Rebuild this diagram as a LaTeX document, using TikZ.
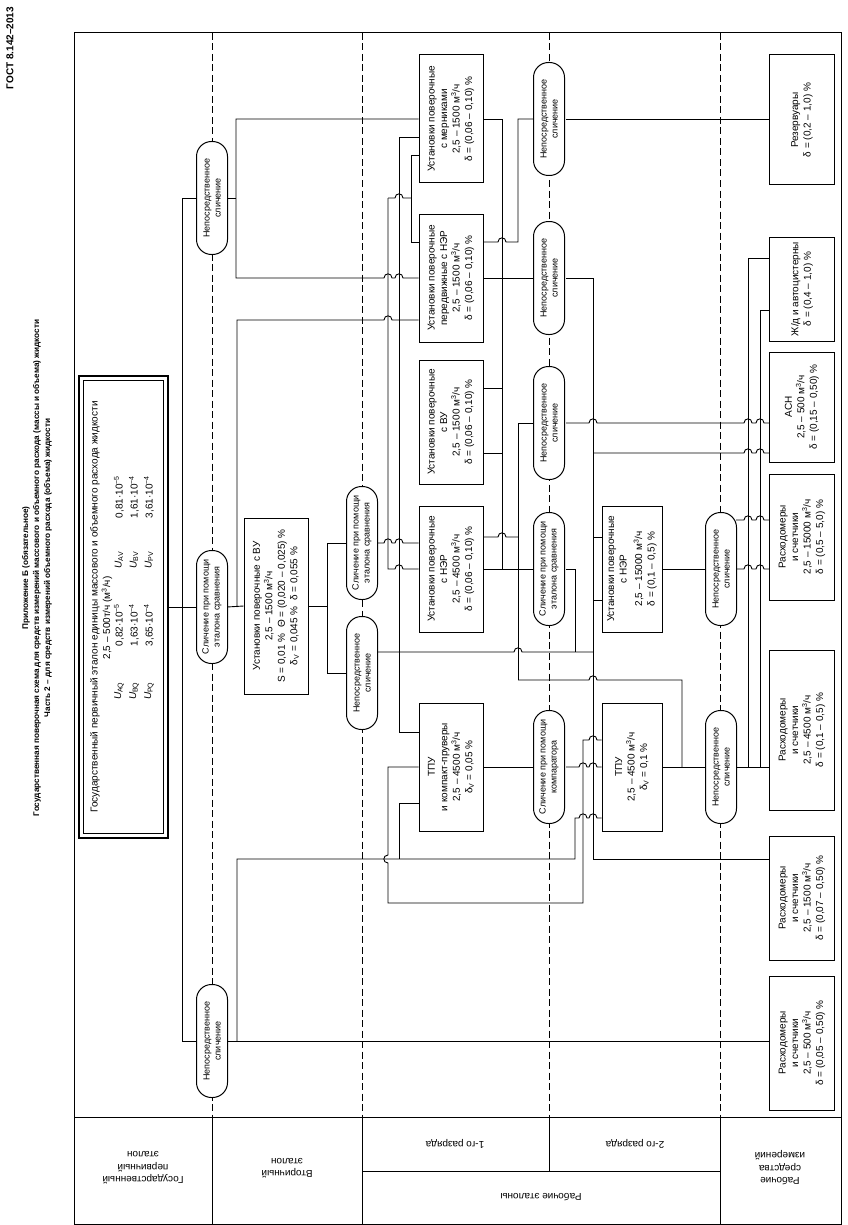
\documentclass[tikz,border=0pt]{standalone}
\usepackage{fontspec}
\setmainfont{Liberation Sans}
\begin{document}
\begin{tikzpicture}[x=1pt,y=-1pt,
  ln/.style={line width=0.9pt},
  frm/.style={line width=1pt},
  sep/.style={line width=0.8pt, dash pattern=on 7pt off 3.5pt},
  box/.style={draw, line width=1pt, fill=white, inner sep=0pt},
  pill/.style={draw, line width=1pt, fill=white, inner sep=0pt, minimum width=31pt, minimum height=113pt, rounded corners=15pt},
  txt/.style={rotate=90, align=center, inner sep=0pt, font=\fontsize{10}{12.5}\selectfont},
  ptxt/.style={rotate=90, align=center, inner sep=0pt, font=\fontsize{9}{11}\selectfont},
  hdr/.style={rotate=180, align=center, inner sep=0pt, font=\fontsize{10}{12.5}\selectfont},
  ttl/.style={rotate=90, inner sep=0pt, font=\bfseries\fontsize{8.2}{10}\selectfont},
  jh/.style args={#1/#2}{insert path={-- (#1-4,#2) .. controls (#1-4,#2-5.5) and (#1+4,#2-5.5) .. (#1+4,#2)}},
  jv/.style args={#1/#2}{insert path={-- (#1,#2-4) .. controls (#1-5.5,#2-4) and (#1-5.5,#2+4) .. (#1,#2+4)}},
]
\useasboundingbox (0,0) rectangle (847,1225);

% titles
\node[ttl, font=\bfseries\fontsize{10}{12}\selectfont] (gost) at (10,48) {ГОСТ 8.142–2013};
\node[ttl] (t1) at (26,568) {Приложение Б (обязательное)};
\node[ttl] (t2) at (37,568) {Государственная поверочная схема для средств измерений массового и объемного расхода (массы и объема) жидкости};
\node[ttl] (t3) at (48,568) {Часть 2 – для средств измерений объемного расхода (объема) жидкости};

% frame and header
\draw[frm] (74,33) rectangle (841,1224);
\draw[frm] (74,1117) -- (841,1117);
\draw[frm] (212,1117) -- (212,1224);
\draw[frm] (362,1117) -- (362,1224);
\draw[frm] (720,1117) -- (720,1224);
\draw[frm] (549,1117) -- (549,1171);
\draw[frm] (362,1171) -- (720,1171);
\node[hdr] (h1) at (143,1168) {Государственный\\первичный\\эталон};
\node[hdr] (h2) at (287,1168) {Вторичный\\эталон};
\node[hdr] (h3) at (455,1144) {1-го разряда};
\node[hdr] (h4) at (635,1144) {2-го разряда};
\node[hdr] (h5) at (541,1197) {Рабочие эталоны};
\node[hdr] (h6) at (780,1168) {Рабочие\\средства\\измерений};

% dashed separators
\draw[sep] (212,33) -- (212,1117);
\draw[sep] (362,33) -- (362,1117);
\draw[sep] (549,33) -- (549,1117);
\draw[sep] (720,33) -- (720,1117);

% boxes
\node[box, line width=2pt, minimum width=89pt, minimum height=462pt] (PRIM) at (123.5,607) {};
\node[draw, line width=0.6pt, minimum width=80pt, minimum height=453pt, inner sep=0pt] (PRIMi) at (PRIM) {};
\node[txt] (PRIMt) at (95,607) {Государственный первичный эталон единицы массового и объемного расхода жидкости};
\node[txt] (PRIMr) at (107,618) {2,5 – 500т/ч (м\textsuperscript{3}/ч)};
\node[txt] (u1) at (119,691) {\textit{U}\textsubscript{AQ}};
\node[txt] (u2) at (119,625) {0,82·10\textsuperscript{−5}};
\node[txt] (u3) at (119,560) {\textit{U}\textsubscript{AV}};
\node[txt] (u4) at (119,497) {0,81·10\textsuperscript{−5}};
\node[txt] (u5) at (134,691) {\textit{U}\textsubscript{BQ}};
\node[txt] (u6) at (134,625) {1,63·10\textsuperscript{−4}};
\node[txt] (u7) at (134,560) {\textit{U}\textsubscript{BV}};
\node[txt] (u8) at (134,497) {1,61·10\textsuperscript{−4}};
\node[txt] (u9) at (149,691) {\textit{U}\textsubscript{PQ}};
\node[txt] (u10) at (149,625) {3,65·10\textsuperscript{−4}};
\node[txt] (u11) at (149,560) {\textit{U}\textsubscript{PV}};
\node[txt] (u12) at (149,497) {3,61·10\textsuperscript{−4}};

\node[box, minimum width=64pt, minimum height=176pt] (SEC) at (276,606) {};
\node[txt] (SECt) at (SEC) {Установки поверочные с ВУ\\2,5 – 1500 м\textsuperscript{3}/ч\\S = 0,01 \%\ \ Θ = (0,020 – 0,025) \%\\δ\textsubscript{V} = 0,045 \%\ \ δ = 0,055 \%};

\node[box, minimum width=64pt, minimum height=128pt] (B1) at (451,119) {};
\node[txt] (B1t) at (B1) {Установки поверочные\\с мерниками\\2,5 – 1500 м\textsuperscript{3}/ч\\δ = (0,06 – 0,10) \%};
\node[box, minimum width=64pt, minimum height=128pt] (B2) at (451,278) {};
\node[txt] (B2t) at (B2) {Установки поверочные\\передвижные с НЭР\\2,5 – 1500 м\textsuperscript{3}/ч\\δ = (0,06 – 0,10) \%};
\node[box, minimum width=64pt, minimum height=124pt] (B3) at (451,422) {};
\node[txt] (B3t) at (B3) {Установки поверочные\\с ВУ\\2,5 – 1500 м\textsuperscript{3}/ч\\δ = (0,06 – 0,10) \%};
\node[box, minimum width=64pt, minimum height=126pt] (B4) at (451,569) {};
\node[txt] (B4t) at (B4) {Установки поверочные\\с НЭР\\2,5 – 4500 м\textsuperscript{3}/ч\\δ = (0,06 – 0,10) \%};
\node[box, minimum width=64pt, minimum height=128pt] (B5) at (451,767) {};
\node[txt] (B5t) at (B5) {ТПУ\\и компакт-пруверы\\2,5 – 4500 м\textsuperscript{3}/ч\\δ\textsubscript{V} = 0,05 \%};

\node[box, minimum width=60pt, minimum height=126pt] (C1) at (632,569) {};
\node[txt] (C1t) at (C1) {Установки поверочные\\с НЭР\\[3pt]2,5 – 15000 м\textsuperscript{3}/ч\\δ = (0,1 – 0,5) \%};
\node[box, minimum width=60pt, minimum height=128pt] (C2) at (632,767) {};
\node[txt] (C2t) at (C2) {ТПУ\\2,5 – 4500 м\textsuperscript{3}/ч\\δ\textsubscript{V} = 0,1 \%};

\node[box, minimum width=65pt, minimum height=130pt] (W1) at (802,120) {};
\node[txt] (W1t) at (W1) {Резервуары\\δ = (0,2 – 1,0) \%};
\node[box, minimum width=65pt, minimum height=104pt] (W2) at (802,289) {};
\node[txt] (W2t) at (W2) {Ж/д и автоцистерны\\δ = (0,4 – 1,0) \%};
\node[box, minimum width=65pt, minimum height=110pt] (W3) at (802,407) {};
\node[txt] (W3t) at (W3) {АСН\\2,5 – 500 м\textsuperscript{3}/ч\\δ = (0,15 – 0,50) \%};
\node[box, minimum width=65pt, minimum height=126pt] (W4) at (802,537) {};
\node[txt] (W4t) at (W4) {Расходомеры\\и счетчики\\2,5 – 15000 м\textsuperscript{3}/ч\\δ = (0,5 – 5,0) \%};
\node[box, minimum width=65pt, minimum height=160pt] (W5) at (802,730) {};
\node[txt] (W5t) at (W5) {Расходомеры\\и счетчики\\2,5 – 4500 м\textsuperscript{3}/ч\\δ = (0,1 – 0,5) \%};
\node[box, minimum width=65pt, minimum height=124pt] (W6) at (802,898) {};
\node[txt] (W6t) at (W6) {Расходомеры\\и счетчики\\2,5 – 1500 м\textsuperscript{3}/ч\\δ = (0,07 – 0,50) \%};
\node[box, minimum width=65pt, minimum height=134pt] (W7) at (802,1043) {};
\node[txt] (W7t) at (W7) {Расходомеры\\и счетчики\\2,5 – 500 м\textsuperscript{3}/ч\\δ = (0,05 – 0,50) \%};

% connectors (drawn before pills so pills sit on top)
\draw[ln] (PRIM.east) -- (197,607);
\draw[ln] (197,198) -- (182,198) -- (182,1041) -- (197,1041);
\draw[ln] (227,198) -- (236,198);
\draw[ln] (B1.west) -- (236,119) -- (236,278) [jh=388/278] [jh=399/278] -- (B2.west);
\draw[ln] (227,607) -- (SEC.west);
\draw[ln] (237,607) -- (237,320) [jh=388/320] -- (B2.west |- 0,320);
\draw[ln] (SEC.east) -- (327,606);
\draw[ln] (347,543) -- (327,543) -- (327,673) -- (347,673);
\draw[ln] (377,543) [jh=388/543] [jh=399/543] -- (B4.west |- 0,543);
\draw[ln] (B1.west |- 0,155) -- (411,155) -- (411,242) -- (B2.west |- 0,242);
\draw[ln] (388,198) [jh=399/198] -- (411,198);
\draw[ln] (388,198) -- (388,569) [jh=399/569] -- (B4.west);
\draw[ln] (B1.west |- 0,137) -- (399,137) -- (399,732) -- (B5.west |- 0,732);
\draw[ln] (377,652) [jh=518/652] -- (593,652);
\draw[ln] (B5.west) -- (388,767) [jv=388/859] -- (388,903) -- (583,903) -- (583,740) [jh=593/740] -- (C2.west |- 0,740);
\draw[ln] (B5.west |- 0,803) -- (399,803) -- (399,859);
\draw[ln] (237,1041) -- (237,859) -- (575,859) -- (575,818) [jh=583/818] [jh=593/818] -- (C2.west |- 0,818);
\draw[ln] (227,1041) -- (W7.west |- 0,1041);
\draw[ln] (B1.east) -- (502,119) -- (502,569) -- (534,569);
\draw[ln] (B4.east) -- (502,569);
\draw[ln] (B3.east |- 0,388) -- (502,388);
\draw[ln] (B3.east |- 0,453) -- (502,453);
\draw[ln] (B2.east |- 0,242) [jh=502/242] -- (518,242) -- (518,119) -- (534,119);
\draw[ln] (B2.east) -- (534,278);
\draw[ln] (B4.east |- 0,537) [jh=502/537] -- (518,537);
\draw[ln] (518,680) -- (518,423) -- (534,423);
\draw[ln] (518,680) [jh=593/680] -- (682,680) -- (682,767);
\draw[ln] (566,278) -- (593,278) -- (593,859) -- (W6.west |- 0,859);
\draw[ln] (593,453) [jh=748/453] [jh=760/453] -- (W3.west |- 0,453);
\draw[ln] (593,537) -- (C1.west |- 0,537);
\draw[ln] (593,600) -- (C1.west |- 0,600);
\draw[ln] (566,423) [jh=593/423] [jh=748/423] [jh=760/423] -- (W3.west |- 0,423);
\draw[ln] (566,569) -- (575,569) -- (575,652);
\draw[ln] (566,119) -- (W1.west |- 0,119);
\draw[ln] (C1.east) -- (706,569);
\draw[ln] (736,569) [jh=748/569] [jh=760/569] -- (W4.west |- 0,569);
\draw[ln] (C2.east) -- (706,767);
\draw[ln] (736,767) -- (W5.west |- 0,767);
\draw[ln] (B5.east) -- (534,767);
\draw[ln] (566,767) [jh=583/767] [jh=593/767] -- (C2.west);
\draw[ln] (W2.west |- 0,258) -- (748,258) -- (748,767);
\draw[ln] (W2.west |- 0,310) -- (760,310) -- (760,767);
\draw[ln] (736,520) [jh=748/520] [jh=760/520] -- (W4.west |- 0,520);

% pills
\node[pill] (Pj) at (212,198) {};
\node[ptxt] (Pjt) at (Pj) {Непосредственное\\сличение};
\node[pill] (Pk) at (212,607) {};
\node[ptxt] (Pkt) at (Pk) {Сличение при помощи\\эталона сравнения};
\node[pill] (Pl) at (212,1041) {};
\node[ptxt] (Plt) at (Pl) {Непосредственное\\сличение};
\node[pill] (Ph) at (362,543) {};
\node[ptxt] (Pht) at (Ph) {Сличение при помощи\\эталона сравнения};
\node[pill] (Pi) at (362,673) {};
\node[ptxt] (Pit) at (Pi) {Непосредственное\\сличение};
\node[pill] (Pa) at (549,119) {};
\node[ptxt] (Pat) at (Pa) {Непосредственное\\сличение};
\node[pill] (Pb) at (549,278) {};
\node[ptxt] (Pbt) at (Pb) {Непосредственное\\сличение};
\node[pill] (Pc) at (549,423) {};
\node[ptxt] (Pct) at (Pc) {Непосредственное\\сличение};
\node[pill] (Pd) at (549,569) {};
\node[ptxt] (Pdt) at (Pd) {Сличение при помощи\\эталона сравнения};
\node[pill] (Pe) at (549,767) {};
\node[ptxt] (Pet) at (Pe) {Сличение при помощи\\компаратора};
\node[pill] (Pf) at (721,569) {};
\node[ptxt] (Pft) at (Pf) {Непосредственное\\сличение};
\node[pill] (Pg) at (721,767) {};
\node[ptxt] (Pgt) at (Pg) {Непосредственное\\сличение};
\end{tikzpicture}
\end{document}
